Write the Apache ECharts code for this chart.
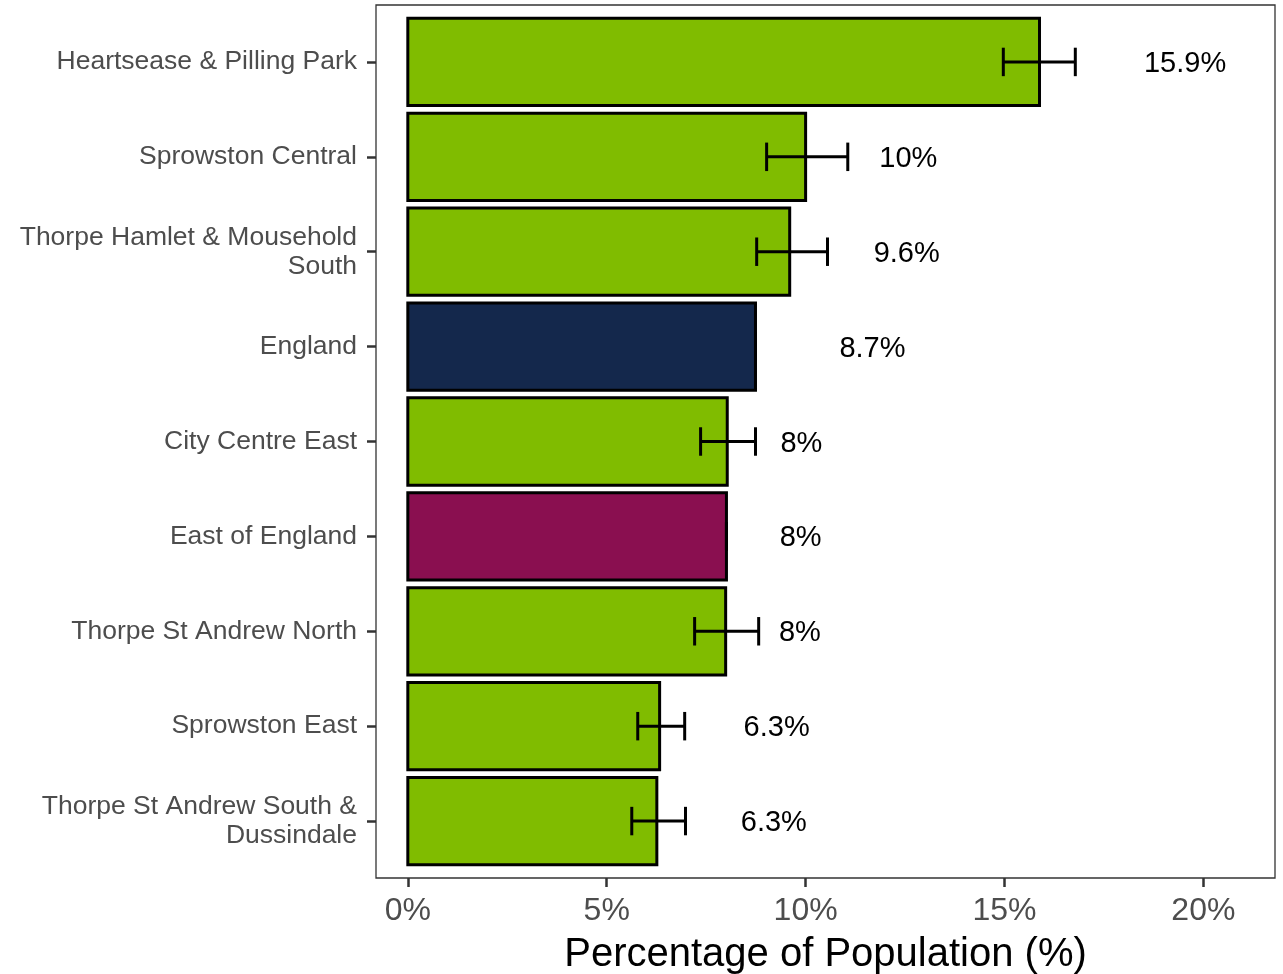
<!DOCTYPE html>
<html>
<head>
<meta charset="utf-8">
<script src="https://cdn.jsdelivr.net/npm/echarts@6/dist/echarts.min.js"></script>
<style>
  html, body { margin: 0; padding: 0; background: #fff; }
  #chart { width: 1283px; height: 974px; }
</style>
</head>
<body>
<div id="chart"></div>
<script>
// areas, top to bottom
const areas = [
  'Heartsease & Pilling Park',
  'Sprowston Central',
  'Thorpe Hamlet & Mousehold\nSouth',
  'England',
  'City Centre East',
  'East of England',
  'Thorpe St Andrew North',
  'Sprowston East',
  'Thorpe St Andrew South &\nDussindale'
];
const areaType = ['ward', 'ward', 'ward', 'england', 'ward', 'region', 'ward', 'ward', 'ward'];
const pct   = [15.88, 10.0, 9.6, 8.74, 8.03, 8.01, 7.99, 6.33, 6.26];
const lower = [14.97, 9.02, 8.77, 8.74, 7.36, 8.01, 7.21, 5.78, 5.63];
const upper = [16.78, 11.06, 10.55, 8.74, 8.74, 8.01, 8.82, 6.96, 6.98];
const xTicks = [0, 5, 10, 15, 20];

const fills = { ward: '#80BC00', england: '#14284C', region: '#8A0F50' };
const FONT = '"Liberation Sans", Arial, sans-serif';

const measure = document.createElement('canvas').getContext('2d');
measure.font = '29px ' + FONT;

function fmt(v) {
  return (Math.round(v * 10) / 10) + '%';
}

const rows = areas.map((a, i) => [i, pct[i], lower[i], upper[i]]);

const chart = echarts.init(document.getElementById('chart'), null, { renderer: 'canvas' });

chart.setOption({
  animation: false,
  backgroundColor: '#ffffff',
  grid: {
    left: 376, right: 8, top: 5, bottom: 96,
    containLabel: false, outerBoundsMode: 'none',
    show: true, borderColor: '#333333', borderWidth: 1.3, backgroundColor: '#ffffff'
  },
  xAxis: {
    type: 'value',
    min: -0.8,
    max: 21.8,
    splitLine: { show: false },
    axisLine: { show: false, onZero: false },
    axisTick: { show: true, customValues: xTicks, length: 9, lineStyle: { color: '#333333', width: 2.5 } },
    axisLabel: {
      customValues: xTicks,
      formatter: v => v + '%',
      fontFamily: FONT, fontSize: 32, color: '#4D4D4D', margin: 17
    },
    name: 'Percentage of Population (%)',
    nameLocation: 'middle',
    nameGap: 57,
    nameTextStyle: { fontFamily: FONT, fontSize: 40, color: '#000000' }
  },
  yAxis: {
    type: 'value',
    inverse: true,
    min: -0.6,
    max: 8.6,
    splitLine: { show: false },
    axisLine: { show: false, onZero: false },
    axisTick: { show: true, customValues: areas.map((a, i) => i), length: 9, lineStyle: { color: '#333333', width: 2.5 } },
    axisLabel: {
      customValues: areas.map((a, i) => i),
      formatter: v => areas[Math.round(v)] || '',
      fontFamily: FONT, fontSize: 26.5, color: '#4D4D4D', lineHeight: 29, margin: 19,
      padding: [7, 0, 0, 0]
    }
  },
  series: [{
    type: 'custom',
    data: rows,
    encode: { x: [1, 2, 3], y: 0 },
    clip: false,
    renderItem: function (params, api) {
      const i = api.value(0);
      const v = api.value(1);
      const lo = api.value(2);
      const hi = api.value(3);
      const base = api.coord([0, i]);
      const end = api.coord([v, i]);
      const barH = api.size([0, 0.92])[1];
      const capH = api.size([0, 0.3])[1];
      const pLo = api.coord([lo, i]);
      const pHi = api.coord([hi, i]);
      const label = fmt(v);
      const tw = measure.measureText(label).width;
      const errStyle = { stroke: '#000000', lineWidth: 3 };
      return {
        type: 'group',
        children: [
          {
            type: 'rect',
            shape: { x: base[0], y: base[1] - barH / 2, width: end[0] - base[0], height: barH },
            style: { fill: fills[areaType[i]], stroke: '#000000', lineWidth: 3 }
          },
          { type: 'line', shape: { x1: pLo[0], y1: pLo[1], x2: pHi[0], y2: pHi[1] }, style: errStyle },
          { type: 'line', shape: { x1: pLo[0], y1: pLo[1] - capH / 2, x2: pLo[0], y2: pLo[1] + capH / 2 }, style: errStyle },
          { type: 'line', shape: { x1: pHi[0], y1: pHi[1] - capH / 2, x2: pHi[0], y2: pHi[1] + capH / 2 }, style: errStyle },
          {
            type: 'text',
            x: end[0] + 1.27 * tw,
            y: end[1] + 2,
            style: {
              text: label, fontFamily: FONT, fontSize: 29, fill: '#000000',
              align: 'left', verticalAlign: 'middle'
            }
          }
        ]
      };
    }
  }]
});
</script>
</body>
</html>
